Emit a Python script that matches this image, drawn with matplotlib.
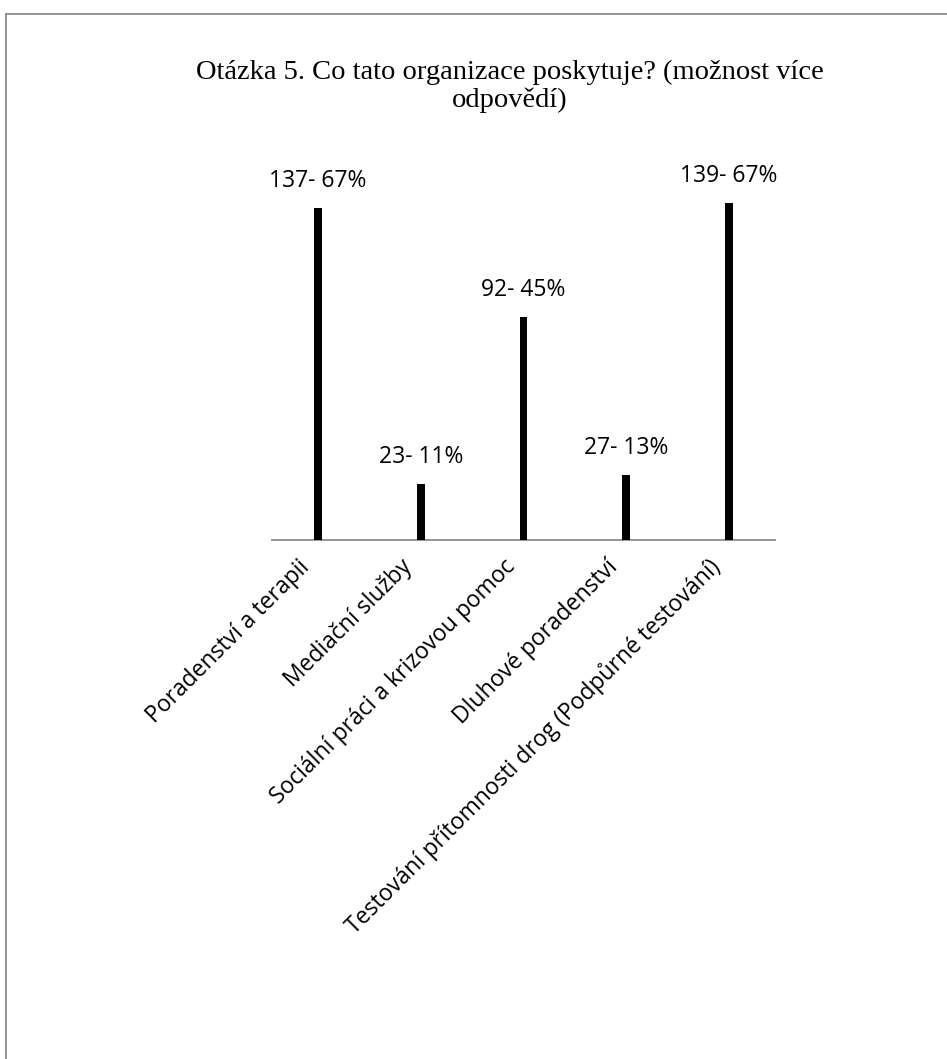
import matplotlib
matplotlib.use("Agg")
import matplotlib.pyplot as plt
from matplotlib.lines import Line2D
from matplotlib.transforms import ScaledTranslation

# Survey question 5: services provided by the organisation (multiple answers allowed)
categories = [
    "Poradenství a terapii",
    "Mediační služby",
    "Sociální práci a krizovou pomoc",
    "Dluhové poradenství",
    "Testování přítomnosti drog (Podpůrné testování)",
]
counts = [137, 23, 92, 27, 139]
percents = [67, 11, 45, 13, 67]
title = "Otázka 5. Co tato organizace poskytuje? (možnost více\nodpovědí)"

W, H = 947, 1059
fig = plt.figure(figsize=(W / 100, H / 100), dpi=100)

# outer frame (left and top edges visible)
frame_col = "#8c8c8c"
fig.add_artist(Line2D([5.5 / W, 5.5 / W], [0, 1 - 14 / H], transform=fig.transFigure,
                      color=frame_col, lw=1.3))
fig.add_artist(Line2D([5.5 / W, 1.0], [1 - 14 / H, 1 - 14 / H], transform=fig.transFigure,
                      color=frame_col, lw=1.3))

# plot area: baseline at y=540 px, first category centred at x=318 px
left_px, right_px, base_px, top_px = 271.8, 775.2, 540, 160
ax = fig.add_axes([left_px / W, (H - base_px) / H, (right_px - left_px) / W,
                   (base_px - top_px) / H])
ax.set_xlim(-0.45, 4.45)
ax.set_ylim(0, 156.7)

x = list(range(len(categories)))
ax.bar(x, counts, width=0.074, color="black", zorder=3)

label_font = ["Open Sans", "DejaVu Sans"]
for xi, c, p in zip(x, counts, percents):
    ax.annotate(f"{c}- {p}%", (xi, c), xytext=(0, 15), textcoords="offset points",
                ha="center", va="baseline", fontsize=16.5, family=label_font)

for s in ("left", "right", "top"):
    ax.spines[s].set_visible(False)
ax.spines["bottom"].set_color(frame_col)
ax.spines["bottom"].set_linewidth(1.3)
ax.set_yticks([])
ax.set_xticks(x)
ax.set_xticklabels(categories, rotation=45, ha="right", va="center",
                   rotation_mode="anchor", fontsize=16.5, family=label_font)
ax.tick_params(axis="x", length=0, pad=17)
shift = ScaledTranslation(-12 / 100, 0, fig.dpi_scale_trans)
for lbl in ax.get_xticklabels():
    lbl.set_transform(lbl.get_transform() + shift)

fig.text(510 / W, 1 - 60 / H, title, ha="center", va="top", fontsize=20.5,
         family="Liberation Serif", linespacing=1.1)

fig.savefig("out.png", dpi=100)
